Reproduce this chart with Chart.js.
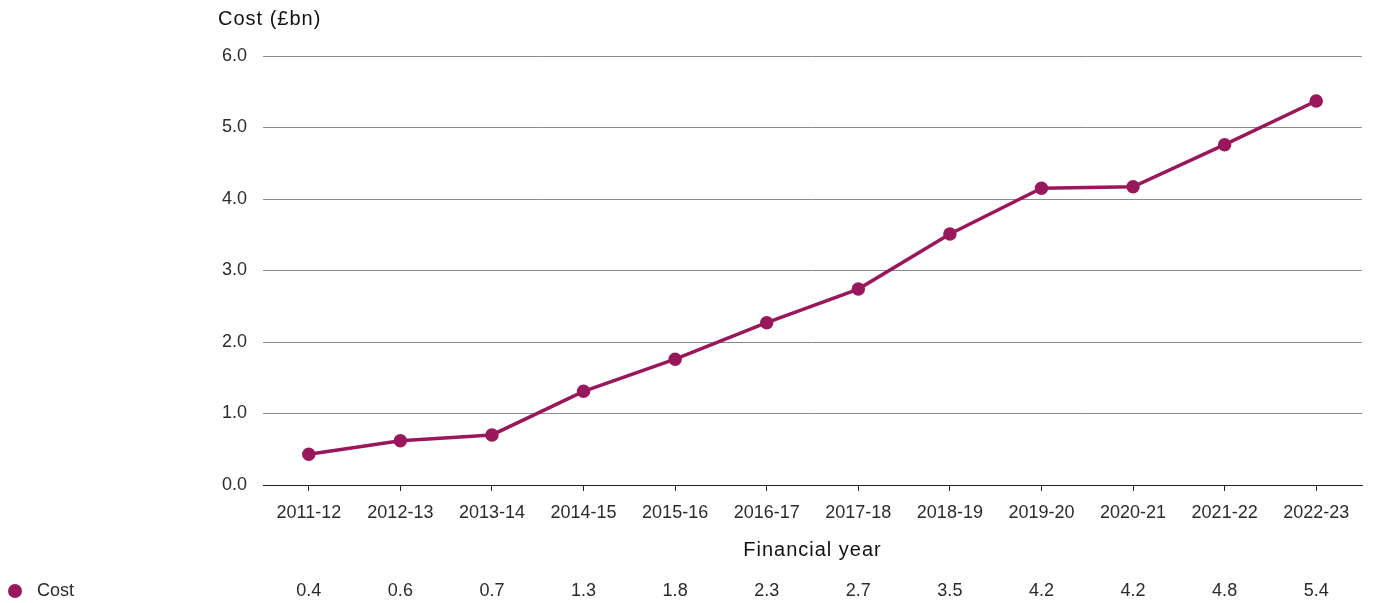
<!DOCTYPE html>
<html>
<head>
<meta charset="utf-8">
<script src="https://cdn.jsdelivr.net/npm/chart.js@4"></script>
<style>
  html, body { margin: 0; padding: 0; background: #fff; }
  #wrap { width: 1375px; height: 603px; }
</style>
</head>
<body>
<div id="wrap"><canvas id="grafikBiaya"></canvas></div>
<script>
const tahun = ["2011-12", "2012-13", "2013-14", "2014-15", "2015-16", "2016-17",
               "2017-18", "2018-19", "2019-20", "2020-21", "2021-22", "2022-23"];
const biaya = [0.43, 0.62, 0.70, 1.31, 1.76, 2.27, 2.74, 3.51, 4.15, 4.17, 4.76, 5.37];
const ticksY = [0, 1, 2, 3, 4, 5, 6];

const warna = "#98185b";
const teks = "#2b2b2b";
const huruf = "'Liberation Sans', Arial, sans-serif";

// judul sumbu dan baris tabel nilai di bawah grafik
const tambahan = {
    id: "tambahan",
    afterDraw(chart) {
        const ctx = chart.ctx;
        const x = chart.scales.x;
        const area = chart.chartArea;
        ctx.save();
        ctx.fillStyle = "#111";
        ctx.font = "20px " + huruf;
        ctx.letterSpacing = "1px";
        ctx.textBaseline = "middle";
        ctx.textAlign = "left";
        ctx.fillText("Cost (£bn)", 218, 19);
        ctx.textAlign = "center";
        ctx.fillText("Financial year", (area.left + area.right) / 2, 550);
        ctx.letterSpacing = "0px";

        // legenda baris
        ctx.beginPath();
        ctx.arc(15, 591, 7, 0, Math.PI * 2);
        ctx.fillStyle = warna;
        ctx.fill();
        ctx.fillStyle = teks;
        ctx.font = "18px " + huruf;
        ctx.textAlign = "left";
        ctx.fillText("Cost", 37, 591);

        ctx.textAlign = "center";
        biaya.forEach((v, i) => {
            ctx.fillText(v.toFixed(1), x.getPixelForValue(i), 591);
        });
        ctx.restore();
    }
};

new Chart(document.getElementById("grafikBiaya"), {
    type: "line",
    data: {
        labels: tahun,
        datasets: [{
            label: "Cost",
            data: biaya,
            borderColor: warna,
            backgroundColor: warna,
            borderWidth: 3.5,
            pointRadius: 5,
            pointHoverRadius: 5,
            tension: 0
        }]
    },
    options: {
        responsive: true,
        maintainAspectRatio: false,
        animation: false,
        layout: { padding: { top: 56, right: 13, left: 0, bottom: 0 } },
        plugins: {
            legend: { display: false },
            tooltip: { enabled: false }
        },
        scales: {
            x: {
                offset: true,
                afterFit: s => { s.height = 118; },
                grid: {
                    offset: false,
                    drawOnChartArea: false,
                    drawTicks: true,
                    tickLength: 6,
                    color: "#222"
                },
                border: { display: true, color: "#222", width: 1 },
                ticks: {
                    padding: 11,
                    color: teks,
                    font: { family: huruf, size: 18 },
                    maxRotation: 0
                }
            },
            y: {
                min: 0,
                max: 6,
                afterFit: s => { s.width = 263; },
                afterBuildTicks: s => { s.ticks = ticksY.map(v => ({ value: v })); },
                grid: {
                    drawTicks: false,
                    color: c => c.tick && c.tick.value === 0 ? "#222" : "#8a8a8a",
                    lineWidth: 1
                },
                border: { display: false },
                ticks: {
                    padding: 16,
                    color: teks,
                    font: { family: huruf, size: 18 },
                    callback: v => v.toFixed(1)
                }
            }
        }
    },
    plugins: [tambahan]
});
</script>
</body>
</html>
